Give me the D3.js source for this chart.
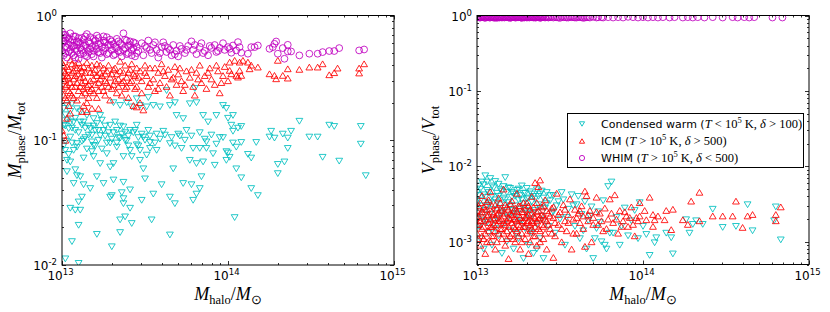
<!DOCTYPE html>
<html>
<head>
<meta charset="utf-8">
<style>
body { margin: 0; background: #fff; }
svg text { font-family: "DejaVu Sans", sans-serif; }
</style>
</head>
<body>

<div id="diagram"></div>

<script src="https://d3js.org/d3.v7.min.js"></script>
<script>

// values: [log10(Mhalo/Msun), fraction]
var cw_mass = [
	[13.03,0.19],[13.06,0.196],[13.09,0.179],[13.11,0.169],[13.15,0.158],[13.19,0.149],[13.23,0.158],[13.01,0.132],
	[13.04,0.124],[13.07,0.14],[13.12,0.132],[13.17,0.124],[13.21,0.136],[13.25,0.12],[13.29,0.132],[13.33,0.12],
	[13.37,0.128],[13.41,0.12],[13.45,0.132],[13.47,0.19],[13.51,0.185],[13.55,0.19],[13.59,0.185],[13.63,0.25],
	[13.65,0.19],[13.68,0.2],[13.69,0.158],[13.73,0.149],[13.77,0.196],[13.80,0.26],[13.81,0.2],[13.85,0.158],
	[13.88,0.14],[13.93,0.158],[13.97,0.19],[13.99,0.18],[14.02,0.132],[14.03,0.158],[13.39,0.2],[13.42,0.185],
	[13.35,0.19],[13.31,0.2],[13.45,0.215],[13.52,0.22],
	[13.01,0.18],[13.02,0.16],[13.03,0.145],[13.05,0.17],[13.06,0.125],[13.08,0.15],[13.10,0.115],[13.13,0.14],
	[13.14,0.105],[13.16,0.13],[13.18,0.11],[13.20,0.12],[13.22,0.1],[13.24,0.145],[13.26,0.108],[13.28,0.115],
	[13.30,0.102],[13.32,0.14],[13.34,0.105],[13.36,0.112],[13.38,0.1],[13.40,0.108],[13.43,0.115],[13.46,0.105],
	[13.48,0.112],[13.50,0.1],[13.53,0.108],[13.57,0.112],[13.61,0.118],[13.66,0.105],[13.70,0.112],[13.74,0.1],
	[13.78,0.108],[13.83,0.115],[13.86,0.102],[13.90,0.11],[13.95,0.105],
	[13.02,0.098],[13.05,0.106],[13.09,0.094],[13.13,0.101],[13.18,0.097],[13.23,0.109],[13.29,0.095],[13.35,0.104],
	[13.39,0.099],[13.45,0.092],[13.49,0.106],[13.53,0.096],[13.59,0.102],[13.65,0.094],[13.71,0.108],[13.87,0.097],
	[13.93,0.093],[13.97,0.105],
	[13.01,0.09],[13.02,0.13],[13.04,0.077],[13.05,0.14],[13.06,0.095],[13.08,0.12],[13.09,0.088],[13.11,0.14],
	[13.12,0.098],[13.14,0.125],[13.15,0.085],[13.16,0.11],[13.19,0.13],[13.20,0.09],[13.22,0.12],[13.24,0.085],
	[13.26,0.13],[13.27,0.095],[13.31,0.115],[13.33,0.095],[13.35,0.13],[13.38,0.115],[13.40,0.09],[13.44,0.12],
	[13.46,0.09],[13.52,0.12],[13.56,0.095],[13.62,0.11],[13.68,0.09],[13.75,0.12],
	[13.02,0.083],[13.07,0.083],[13.03,0.069],[13.05,0.067],[13.13,0.072],[13.19,0.091],[13.18,0.081],[13.19,0.074],
	[13.23,0.065],[13.27,0.078],[13.29,0.061],[13.31,0.065],[13.33,0.088],[13.37,0.074],[13.41,0.083],[13.42,0.074],
	[13.47,0.083],[13.47,0.069],[13.49,0.059],[13.51,0.076],[13.53,0.086],[13.57,0.083],[13.67,0.059],[13.72,0.086],
	[13.77,0.069],[13.79,0.086],[13.81,0.065],[13.83,0.086],[13.85,0.067],[13.87,0.086],[13.91,0.078],[13.92,0.063],
	[13.99,0.069],[13.99,0.081],
	[13.03,0.056],[13.08,0.058],[13.09,0.052],[13.11,0.051],[13.21,0.051],[13.25,0.045],[13.31,0.048],[13.37,0.046],
	[13.50,0.049],[13.07,0.045],[13.13,0.044],[13.17,0.041],[13.60,0.044],[13.73,0.045],[13.78,0.044],[13.84,0.051],
	[13.83,0.041],[13.81,0.037],[13.79,0.033],[13.36,0.038],[13.30,0.036],[13.29,0.035],[13.37,0.034],[13.37,0.031],
	[13.41,0.04],[13.55,0.037],[13.65,0.035],[13.68,0.031],[13.12,0.035],[13.10,0.032],[13.05,0.0285],[13.08,0.0275],
	[13.11,0.0275],[13.41,0.0285],[13.48,0.033],[13.38,0.0243],[13.35,0.023],[13.42,0.0215],[13.54,0.023],[13.10,0.0208],
	[13.21,0.0176],[13.35,0.0182],[13.65,0.0174],[13.06,0.0154],[13.30,0.014],[13.02,0.0112],[13.10,0.0103],
	[14.00,0.15],[14.03,0.118],[14.06,0.125],[14.08,0.129],[14.03,0.095],[14.05,0.088],[14.08,0.096],[14.01,0.073],
	[14.00,0.079],[14.05,0.059],[14.08,0.050],[14.12,0.077],[14.14,0.072],[14.14,0.041],[14.18,0.036],[14.17,0.096],
	[14.04,0.024],[14.26,0.118],[14.25,0.106],[14.28,0.104],[14.33,0.112],[14.36,0.104],[14.38,0.118],[14.36,0.086],
	[14.30,0.064],[14.30,0.054],[14.34,0.067],[14.43,0.142],[14.49,0.106],[14.54,0.106],[14.57,0.073],[14.61,0.132],
	[14.64,0.129],[14.67,0.068],[14.80,0.129],[14.80,0.093],[14.83,0.052]
];

var icm_mass = [
	[13.00,0.42],[13.01,0.36],[13.01,0.30],[13.02,0.27],[13.02,0.22],[13.03,0.39],[13.03,0.33],[13.04,0.25],
	[13.04,0.19],[13.05,0.44],[13.05,0.29],[13.06,0.35],[13.06,0.23],[13.07,0.31],[13.08,0.40],[13.08,0.27],
	[13.09,0.21],[13.10,0.34],[13.10,0.25],[13.11,0.38],[13.12,0.29],[13.12,0.17],[13.13,0.32],[13.14,0.24],
	[13.15,0.42],[13.15,0.20],[13.16,0.28],[13.17,0.35],[13.18,0.26],[13.18,0.18],[13.19,0.31],[13.20,0.37],
	[13.21,0.22],[13.22,0.29],[13.23,0.40],[13.24,0.33],[13.25,0.25],[13.26,0.30],[13.27,0.36],[13.28,0.27],
	[13.29,0.21],[13.30,0.34],[13.31,0.28],[13.32,0.38],[13.33,0.24],[13.34,0.31],[13.35,0.43],[13.36,0.29],
	[13.37,0.35],[13.38,0.26],[13.39,0.32],[13.40,0.22],[13.41,0.37],[13.42,0.30],[13.43,0.19],[13.44,0.33],
	[13.45,0.27],
	[13.00,0.33],[13.00,0.26],[13.01,0.40],[13.01,0.23],[13.02,0.35],[13.02,0.31],[13.03,0.28],[13.03,0.21],
	[13.04,0.37],[13.04,0.32],[13.05,0.24],[13.06,0.41],[13.06,0.27],[13.07,0.36],[13.07,0.22],[13.08,0.33],
	[13.09,0.38],[13.09,0.29],[13.10,0.42],[13.11,0.27],[13.11,0.32],[13.12,0.36],[13.12,0.23],[13.13,0.39],
	[13.13,0.26],[13.14,0.30],[13.14,0.35],[13.15,0.27],[13.16,0.38],[13.16,0.22],[13.17,0.30],[13.17,0.25],
	[13.18,0.40],[13.19,0.24],[13.19,0.35],[13.20,0.28],[13.21,0.33],[13.21,0.41],[13.22,0.25],[13.23,0.31],
	[13.23,0.35],[13.24,0.27],[13.25,0.38],[13.26,0.23],[13.26,0.34],[13.27,0.29],[13.28,0.40],[13.29,0.32],
	[13.30,0.26],[13.31,0.37],[13.32,0.30],[13.33,0.34],[13.34,0.27],[13.35,0.36],[13.36,0.23],[13.37,0.30],
	[13.38,0.40],[13.39,0.27],[13.40,0.35],[13.41,0.29],[13.42,0.41],[13.43,0.34],[13.44,0.26],[13.45,0.38],
	[13.46,0.32],[13.48,0.24],[13.50,0.35],[13.53,0.29],[13.56,0.38],[13.58,0.26],[13.61,0.36],[13.67,0.32],
	[13.71,0.38],[13.74,0.28],[13.78,0.37],[13.82,0.31],[13.88,0.35],[13.93,0.40],[13.96,0.29],
	[13.00,0.12],[13.01,0.11],[13.02,0.10],[13.03,0.15],[13.05,0.165],[13.13,0.19],[13.15,0.17],[13.22,0.18],
	[13.45,0.185],[13.47,0.2],[13.49,0.175],
	[13.47,0.36],[13.48,0.30],[13.50,0.40],[13.51,0.33],[13.52,0.27],[13.53,0.38],[13.55,0.31],[13.56,0.25],
	[13.58,0.35],[13.59,0.29],[13.60,0.41],[13.62,0.33],[13.63,0.27],[13.64,0.37],[13.65,0.23],[13.66,0.31],
	[13.68,0.39],[13.69,0.28],[13.70,0.34],[13.72,0.30],[13.73,0.25],[13.75,0.36],[13.77,0.32],[13.79,0.27],
	[13.80,0.23],[13.81,0.35],[13.83,0.40],[13.84,0.29],[13.86,0.33],[13.87,0.26],[13.89,0.38],[13.90,0.31],
	[13.92,0.28],[13.94,0.36],[13.95,0.24],[13.97,0.33],[13.98,0.39],[14.00,0.30],
	[14.01,0.423],[14.04,0.437],[14.07,0.423],[14.09,0.437],[14.12,0.423],[14.14,0.40],[14.18,0.386],[14.02,0.341],
	[14.05,0.331],[14.07,0.363],[14.08,0.331],[14.06,0.321],[14.01,0.363],[14.30,0.437],[14.36,0.374],[14.25,0.341],
	[14.28,0.331],[14.29,0.311],[14.33,0.331],[14.36,0.315],[14.43,0.37],[14.49,0.386],[14.54,0.386],[14.57,0.41],
	[14.61,0.335],[14.64,0.348],[14.66,0.379],[14.79,0.379],[14.79,0.346],[14.82,0.41],[14.13,0.374]
];

var whim_mass = [
	[13.00,0.74],[13.01,0.70],[13.01,0.62],[13.02,0.56],[13.02,0.50],[13.03,0.67],[13.03,0.46],[13.04,0.59],
	[13.05,0.72],[13.05,0.53],[13.06,0.64],[13.07,0.48],[13.07,0.57],[13.08,0.68],[13.09,0.52],[13.10,0.61],
	[13.10,0.45],[13.11,0.55],[13.12,0.66],[13.13,0.50],[13.14,0.58],[13.15,0.71],[13.15,0.47],[13.16,0.62],
	[13.17,0.54],[13.18,0.49],[13.19,0.65],[13.20,0.57],[13.21,0.69],[13.22,0.51],[13.23,0.60],[13.24,0.46],
	[13.25,0.63],[13.26,0.55],[13.27,0.67],[13.28,0.50],[13.29,0.58],[13.30,0.62],[13.31,0.48],[13.32,0.56],
	[13.33,0.65],[13.34,0.52],[13.35,0.60],[13.36,0.47],[13.37,0.72],[13.38,0.55],[13.39,0.63],[13.40,0.50],
	[13.41,0.58],[13.42,0.53],[13.43,0.61],[13.44,0.47],[13.45,0.56],
	[13.00,0.60],[13.00,0.52],[13.01,0.66],[13.01,0.48],[13.02,0.63],[13.02,0.70],[13.03,0.55],[13.04,0.51],
	[13.04,0.65],[13.05,0.61],[13.06,0.50],[13.06,0.57],[13.07,0.68],[13.08,0.54],[13.08,0.46],[13.09,0.62],
	[13.09,0.58],[13.10,0.66],[13.11,0.49],[13.11,0.60],[13.12,0.53],[13.13,0.64],[13.13,0.57],[13.14,0.48],
	[13.14,0.68],[13.15,0.55],[13.16,0.51],[13.17,0.60],[13.17,0.67],[13.18,0.56],[13.19,0.52],[13.19,0.47],
	[13.20,0.63],[13.21,0.54],[13.22,0.59],[13.22,0.66],[13.23,0.50],[13.24,0.56],[13.25,0.52],[13.25,0.68],
	[13.26,0.61],[13.27,0.49],[13.28,0.58],[13.29,0.64],[13.30,0.53],[13.31,0.59],[13.32,0.49],[13.33,0.55],
	[13.34,0.62],[13.35,0.51],[13.36,0.58],[13.37,0.53],[13.38,0.64],[13.39,0.49],[13.40,0.57],[13.41,0.62],
	[13.42,0.48],[13.43,0.55],[13.44,0.60],[13.45,0.50],
	[13.50,0.57],[13.53,0.53],[13.56,0.61],[13.59,0.50],[13.62,0.57],[13.65,0.53],[13.68,0.49],[13.71,0.57],
	[13.75,0.53],[13.80,0.58],[13.85,0.50],[13.89,0.57],[13.94,0.52],
	[13.46,0.52],[13.48,0.60],[13.49,0.48],[13.51,0.55],[13.52,0.63],[13.54,0.50],[13.55,0.58],[13.57,0.53],
	[13.58,0.46],[13.60,0.56],[13.61,0.61],[13.63,0.51],[13.64,0.55],[13.66,0.48],[13.67,0.58],[13.69,0.52],
	[13.70,0.47],[13.72,0.54],[13.74,0.50],[13.76,0.57],[13.78,0.62],[13.79,0.53],[13.81,0.49],[13.83,0.56],
	[13.84,0.60],[13.86,0.52],[13.88,0.48],[13.90,0.55],[13.92,0.58],[13.93,0.51],[13.95,0.55],[13.97,0.60],
	[13.98,0.53],
	[14.00,0.558],[14.03,0.575],[14.05,0.525],[14.06,0.612],[14.07,0.558],[14.08,0.503],[14.12,0.494],[14.14,0.558],
	[14.16,0.558],[14.18,0.575],[14.01,0.541],[14.02,0.503],[14.25,0.541],[14.27,0.558],[14.28,0.593],[14.29,0.619],
	[14.30,0.494],[14.33,0.548],[14.34,0.45],[14.36,0.582],[14.36,0.515],[14.38,0.515],[14.43,0.479],[14.49,0.494],
	[14.54,0.494],[14.57,0.509],[14.61,0.519],[14.64,0.519],[14.67,0.548],[14.79,0.525],[14.82,0.534]
];

var cw_vol = [
	[13.00,0.0045],[13.00,0.0028],[13.01,0.0016],[13.01,0.0055],[13.02,0.0035],[13.02,0.0011],[13.03,0.0021],[13.03,0.0062],
	[13.04,0.0042],[13.04,0.0008],[13.05,0.0026],[13.05,0.0075],[13.06,0.0018],[13.06,0.0048],[13.07,0.0032],[13.07,0.0013],
	[13.08,0.0069],[13.08,0.0023],[13.09,0.0040],[13.09,0.0009],[13.10,0.0052],[13.10,0.0027],[13.11,0.0015],[13.11,0.0036],
	[13.12,0.0044],[13.12,0.0020],[13.13,0.0058],[13.13,0.0012],[13.14,0.0031],[13.14,0.0024],[13.15,0.0047],[13.15,0.0007],
	[13.16,0.0017],[13.16,0.0038],[13.17,0.0071],[13.17,0.0028],[13.18,0.0045],[13.18,0.0010],[13.19,0.0033],[13.19,0.0021],
	[13.20,0.0051],[13.20,0.0014],[13.21,0.0039],[13.21,0.0026],[13.22,0.0043],[13.22,0.0008],[13.23,0.0030],[13.23,0.0018],
	[13.24,0.0048],[13.24,0.0023],[13.25,0.0036],[13.25,0.0011],[13.26,0.0041],[13.26,0.0027],[13.27,0.0019],[13.27,0.0055],
	[13.28,0.0032],[13.28,0.0006],[13.29,0.0044],[13.29,0.0015],[13.30,0.0024],[13.30,0.0037],[13.31,0.0029],[13.31,0.0009],
	[13.32,0.0046],[13.32,0.0020],[13.33,0.0034],[13.33,0.0013],[13.34,0.0040],[13.34,0.0007],[13.35,0.0026],[13.36,0.0049],
	[13.36,0.0017],[13.37,0.0031],[13.38,0.0043],[13.38,0.0011],[13.39,0.0022],[13.40,0.0038],[13.40,0.0006],[13.41,0.0028],
	[13.42,0.0045],[13.43,0.0016],[13.44,0.0035],[13.45,0.0024],[13.46,0.0041],[13.47,0.0013],[13.48,0.0030],[13.50,0.0020],
	[13.52,0.0036],[13.53,0.0009],[13.55,0.0027],[13.57,0.0042],[13.59,0.0016],[13.60,0.0031],[13.62,0.0011],[13.63,0.0023],
	[13.65,0.0034],[13.66,0.0008],[13.67,0.0019],[13.69,0.0029],[13.70,0.0006],[13.72,0.0015],[13.73,0.0025],[13.75,0.0010],
	[13.76,0.0035],[13.78,0.0008],[13.79,0.0054],[13.81,0.0062],[13.82,0.0013],[13.84,0.0021],[13.86,0.0009],[13.87,0.0016],
	[13.89,0.0028],[13.91,0.0012],[13.93,0.0019],[13.95,0.0026],[13.97,0.0011],
	[13.00,0.0020],[13.00,0.0035],[13.01,0.0041],[13.01,0.0024],[13.02,0.0050],[13.02,0.0016],[13.03,0.0030],[13.04,0.0057],
	[13.04,0.0019],[13.05,0.0039],[13.06,0.0030],[13.06,0.0062],[13.07,0.0045],[13.08,0.0033],[13.09,0.0055],[13.10,0.0019],
	[13.11,0.0063],[13.12,0.0033],[13.13,0.0040],[13.14,0.0049],[13.15,0.0025],[13.16,0.0054],[13.17,0.0036],[13.18,0.0022],
	[13.19,0.0052],[13.20,0.0030],[13.21,0.0045],[13.22,0.0024],[13.23,0.0040],[13.24,0.0013],[13.25,0.0050],[13.26,0.0019],
	[13.27,0.0036],[13.28,0.0044],[13.29,0.0026],[13.30,0.0051],[13.31,0.0038],[13.32,0.0014],[13.33,0.0043],[13.34,0.0024],
	[13.35,0.0037],[13.36,0.0008],[13.37,0.0040],[13.38,0.0028],[13.39,0.0047],[13.40,0.0019],[13.42,0.0032],[13.44,0.0041],
	[13.46,0.0025],[13.49,0.0034],[13.51,0.0045],[13.54,0.0021],[13.58,0.0030],[13.61,0.0040],[13.64,0.0014],[13.68,0.0022],
	[13.71,0.0011],[13.74,0.0018],[13.77,0.0009],[13.80,0.0013],
	[13.98,0.0033],[14.00,0.0016],[14.02,0.00125],[14.07,0.00097],[14.14,0.0013],[14.18,0.00069],[14.17,0.00113],[14.04,0.00066],
	[14.08,0.00113],[14.28,0.0013],[14.30,0.0017],[14.36,0.0017],[14.42,0.0027],[14.48,0.00155],[14.56,0.0016],[14.63,0.0031],
	[14.66,0.0014],[14.79,0.0019],[14.80,0.0029],[14.83,0.00106],[14.26,0.00196],[14.32,0.0019]
];

var icm_vol = [
	[13.00,0.0021],[13.00,0.0013],[13.01,0.0030],[13.01,0.0017],[13.02,0.0009],[13.02,0.0024],[13.03,0.0041],[13.03,0.0015],
	[13.04,0.0019],[13.04,0.0011],[13.05,0.0027],[13.05,0.0007],[13.06,0.0022],[13.06,0.0034],[13.07,0.0014],[13.07,0.0018],
	[13.08,0.0046],[13.08,0.0010],[13.09,0.0025],[13.09,0.0016],[13.10,0.0020],[13.10,0.0012],[13.11,0.0031],[13.11,0.0008],
	[13.12,0.0017],[13.12,0.0023],[13.13,0.0013],[13.13,0.0038],[13.14,0.0019],[13.14,0.0027],[13.15,0.0011],[13.15,0.0015],
	[13.16,0.0022],[13.16,0.0050],[13.17,0.0017],[13.17,0.0009],[13.18,0.0029],[13.18,0.0014],[13.19,0.0021],[13.19,0.0006],
	[13.20,0.0024],[13.20,0.0012],[13.21,0.0035],[13.21,0.0018],[13.22,0.0016],[13.22,0.0026],[13.23,0.0010],[13.23,0.0020],
	[13.24,0.0044],[13.24,0.0014],[13.25,0.0023],[13.25,0.0017],[13.26,0.0008],[13.26,0.0030],[13.27,0.0019],[13.27,0.0013],
	[13.28,0.0025],[13.28,0.0016],[13.29,0.0021],[13.29,0.0011],[13.30,0.0033],[13.30,0.0018],[13.31,0.0007],[13.31,0.0023],
	[13.32,0.0014],[13.32,0.0027],[13.33,0.0019],[13.33,0.0040],[13.34,0.0012],[13.34,0.0022],[13.35,0.0061],[13.35,0.0016],
	[13.36,0.0025],[13.36,0.0009],[13.37,0.0054],[13.37,0.0020],[13.38,0.0066],[13.38,0.0014],[13.39,0.0029],[13.39,0.0017],
	[13.40,0.0022],[13.40,0.0011],[13.41,0.0036],[13.42,0.0019],[13.42,0.0008],[13.43,0.0024],[13.44,0.0015],[13.45,0.0028],
	[13.46,0.00062],[13.46,0.0021],[13.47,0.0012],[13.48,0.0044],[13.49,0.0017],[13.50,0.0025],[13.51,0.0010],[13.52,0.0031],
	[13.53,0.0019],[13.54,0.0014],[13.55,0.0023],[13.56,0.0037],[13.57,0.0008],[13.58,0.0020],[13.59,0.0027],[13.60,0.0013],
	[13.61,0.0024],[13.62,0.0018],[13.63,0.0030],[13.64,0.0022],[13.65,0.0047],[13.65,0.00087],[13.66,0.0041],[13.67,0.0019],
	[13.68,0.0026],[13.69,0.0010],[13.70,0.0021],[13.72,0.0039],[13.73,0.0017],[13.74,0.0024],[13.76,0.0014],[13.77,0.0028],
	[13.79,0.0020],[13.80,0.0037],[13.82,0.0018],[13.83,0.0042],[13.85,0.0013],[13.86,0.0026],[13.88,0.0019],[13.90,0.0022],
	[13.91,0.0016],[13.93,0.0029],[13.95,0.0012],[13.96,0.0021],[13.97,0.0019],
	[13.00,0.0017],[13.00,0.0026],[13.01,0.0011],[13.01,0.0022],[13.02,0.0019],[13.02,0.0033],[13.03,0.0012],[13.03,0.0025],
	[13.04,0.0016],[13.04,0.0029],[13.05,0.0020],[13.05,0.0013],[13.06,0.0010],[13.06,0.0027],[13.07,0.0023],[13.07,0.0036],
	[13.08,0.0016],[13.08,0.0020],[13.09,0.0012],[13.09,0.0030],[13.10,0.0017],[13.10,0.0024],[13.11,0.0021],[13.11,0.0014],
	[13.12,0.0028],[13.12,0.0010],[13.13,0.0019],[13.13,0.0024],[13.14,0.0015],[13.14,0.0033],[13.15,0.0020],[13.15,0.0026],
	[13.16,0.0013],[13.16,0.0018],[13.17,0.0024],[13.17,0.0031],[13.18,0.0019],[13.18,0.0011],[13.19,0.0016],[13.19,0.0027],
	[13.20,0.0020],[13.20,0.0032],[13.21,0.0013],[13.21,0.0023],[13.22,0.0020],[13.22,0.0011],[13.23,0.0028],[13.23,0.0015],
	[13.24,0.0019],[13.24,0.0025],[13.25,0.0012],[13.25,0.0030],[13.26,0.0021],[13.26,0.0016],[13.27,0.0025],[13.27,0.0010],
	[13.28,0.0019],[13.28,0.0033],[13.29,0.0016],[13.29,0.0027],[13.30,0.0013],[13.30,0.0022],[13.31,0.0019],[13.31,0.0030],
	[13.32,0.0017],[13.32,0.0010],[13.33,0.0024],[13.33,0.0015],[13.34,0.0029],[13.34,0.0018],[13.35,0.0021],[13.35,0.0012],
	[13.36,0.0019],[13.36,0.0033],[13.37,0.0015],[13.37,0.0026],[13.38,0.0021],[13.38,0.0010],[13.39,0.0023],[13.40,0.0016],
	[13.40,0.0030],[13.41,0.0013],[13.41,0.0020],[13.42,0.0026],[13.43,0.0017],[13.44,0.0022],[13.45,0.0013],[13.46,0.0029],
	[13.47,0.0018],[13.49,0.0023],[13.51,0.0015],[13.53,0.0027],[13.55,0.0018],[13.58,0.0013],[13.60,0.0021],[13.62,0.0026],
	[13.64,0.0015],[13.67,0.0023],[13.70,0.0017],[13.72,0.0025],[13.75,0.0019],[13.78,0.0015],[13.81,0.0024],[13.84,0.0020],
	[13.87,0.0016],[13.89,0.0025],[13.92,0.0021],[13.94,0.0017],
	[14.04,0.0039],[13.98,0.0033],[14.01,0.0026],[14.06,0.0023],[14.07,0.00196],[14.09,0.0022],[14.13,0.00196],[14.14,0.0026],
	[14.18,0.0027],[14.17,0.00145],[14.24,0.00196],[14.27,0.0017],[14.29,0.00346],[14.34,0.00453],[14.34,0.0019],[14.42,0.0022],
	[14.48,0.0022],[14.54,0.0022],[14.56,0.00346],[14.60,0.00155],[14.63,0.0022],[14.66,0.0023],[14.80,0.0023],[14.80,0.0019],
	[14.83,0.0029],[13.98,0.0022],[14.02,0.00196],[14.06,0.0016]
];

var whim_vol = [
	[13.00,0.95],[13.01,0.97],[13.02,0.94],[13.03,0.96],[13.04,0.95],[13.05,0.93],[13.06,0.95],[13.07,0.97],
	[13.08,0.94],[13.09,0.96],[13.10,0.95],[13.11,0.95],[13.12,0.93],[13.13,0.96],[13.14,0.95],[13.15,0.94],
	[13.16,0.97],[13.17,0.96],[13.18,0.95],[13.19,0.94],[13.20,0.93],[13.21,0.95],[13.22,0.96],[13.23,0.94],
	[13.24,0.96],[13.25,0.95],[13.26,0.95],[13.27,0.93],[13.28,0.96],[13.29,0.95],[13.30,0.94],[13.31,0.97],
	[13.32,0.96],[13.33,0.95],[13.34,0.94],[13.35,0.94],[13.36,0.95],[13.37,0.96],[13.38,0.93],[13.39,0.95],
	[13.40,0.96],[13.41,0.94],[13.42,0.96],[13.43,0.95],[13.44,0.95],[13.46,0.94],[13.48,0.95],[13.50,0.93],
	[13.52,0.95],[13.54,0.94],[13.56,0.96],[13.58,0.95],[13.60,0.94],[13.62,0.95],[13.64,0.93],[13.66,0.95],
	[13.68,0.94],[13.70,0.96],[13.73,0.95],[13.76,0.94],[13.79,0.95],[13.82,0.94],[13.85,0.95],[13.88,0.94],
	[13.91,0.96],[13.94,0.95],[13.97,0.94],[14.00,0.95],[14.03,0.94],[14.06,0.95],[14.09,0.94],[14.12,0.95],
	[14.16,0.94],[14.19,0.95],[14.24,0.94],[14.27,0.95],[14.30,0.94],[14.33,0.95],[14.37,0.94],[14.42,0.95],
	[14.48,0.94],[14.54,0.95],[14.57,0.94],[14.61,0.95],[14.64,0.94],[14.67,0.95],[14.78,0.94],[14.84,0.94],
	[13.005,0.96],[13.015,0.94],[13.025,0.95],[13.035,0.97],[13.045,0.94],[13.055,0.96],[13.065,0.95],[13.075,0.94],
	[13.085,0.96],[13.095,0.95],[13.105,0.93],[13.115,0.96],[13.125,0.95],[13.135,0.94],[13.145,0.96],[13.155,0.95],
	[13.165,0.94],[13.175,0.95],[13.185,0.96],[13.195,0.95],[13.205,0.94],[13.215,0.96],[13.225,0.95],[13.235,0.94],
	[13.245,0.95],[13.255,0.96],[13.265,0.94],[13.275,0.95],[13.285,0.94],[13.295,0.96],[13.305,0.95],[13.315,0.94],
	[13.325,0.95],[13.335,0.96],[13.345,0.95],[13.355,0.94],[13.365,0.96],[13.375,0.95],[13.385,0.94],[13.395,0.96],
	[13.41,0.95],[13.43,0.94],[13.45,0.96],[13.47,0.95],[13.49,0.94],[13.51,0.96],[13.53,0.95],[13.55,0.94],
	[13.57,0.95],[13.59,0.94],[13.61,0.96],[13.63,0.95],[13.65,0.94],[13.67,0.95],[13.72,0.94],[13.75,0.95]
];

var legend_labels = [
	{ name: 'Condensed warm', rel: '<', drel: '>', delta: '100' },
	{ name: 'ICM', rel: '>', drel: '>', delta: '500' },
	{ name: 'WHIM', rel: '>', drel: '<', delta: '500' }
];
var series_colors = [ '#00bfbf', '#ff0000', '#bf00bf' ];
var series_shapes = [ 'down', 'up', 'circle' ];

var x_domain = [ 1e13, 1e15 ];

var canvas_size = { width: 830, height: 312 };

var svg = d3.select( '#diagram' )
	.append( 'svg' )
		.attr( 'width', canvas_size.width )
		.attr( 'height', canvas_size.height );

var panels = [
	{ id: 'l', x0: 62, x1: 394, y0: 15.5, y1: 265, ydom: [ 1e-2, 1 ],
	  series: [ cw_mass, icm_mass, whim_mass ], ylab: [ 'M', 'phase', 'M', 'tot' ], ylx: 21 },
	{ id: 'r', x0: 477, x1: 809, y0: 15.5, y1: 264.5, ydom: [ 5e-4, 1 ],
	  series: [ cw_vol, icm_vol, whim_vol ], ylab: [ 'V', 'phase', 'V', 'tot' ], ylx: 435 }
];

function marker_path( shape, s )
{
	if( shape == 'up' ) return 'M0,' + (-0.85*s) + 'L' + s + ',' + (0.85*s) + 'L' + (-s) + ',' + (0.85*s) + 'Z';
	if( shape == 'down' ) return 'M0,' + (0.85*s) + 'L' + s + ',' + (-0.85*s) + 'L' + (-s) + ',' + (-0.85*s) + 'Z';
	return d3.arc()({ innerRadius: 0, outerRadius: s, startAngle: 0, endAngle: 2*Math.PI });
}

function pow_label( g, x, y, exp, anchor )
{
	var t = g.append( 'text' )
		.attr( 'x', x ).attr( 'y', y )
		.attr( 'text-anchor', anchor )
		.style( 'font-size', '12px' );
	t.append( 'tspan' ).text( '10' );
	t.append( 'tspan' ).attr( 'dy', -5 ).style( 'font-size', '8.5px' ).text( exp );
}

function math_label( g, parts, x, y, rot )
{
	var t = g.append( 'text' )
		.attr( 'transform', 'translate(' + x + ',' + y + ')' + ( rot ? ' rotate(-90)' : '' ) )
		.attr( 'text-anchor', 'middle' )
		.style( 'font-family', '"Liberation Serif", serif' );
	t.append( 'tspan' ).style( 'font-style', 'italic' ).style( 'font-size', '18px' ).text( parts[0] );
	t.append( 'tspan' ).attr( 'dy', 4 ).style( 'font-size', '12.5px' ).text( parts[1] );
	t.append( 'tspan' ).attr( 'dy', -4 ).style( 'font-size', '18px' ).text( '/' );
	t.append( 'tspan' ).style( 'font-style', 'italic' ).style( 'font-size', '18px' ).text( parts[2] );
	t.append( 'tspan' ).attr( 'dy', 4 ).style( 'font-size', '12.5px' ).text( parts[3] );
}

function draw_panel( p )
{
	var x = d3.scaleLog().domain( x_domain ).range( [ p.x0, p.x1 ] );
	var y = d3.scaleLog().domain( p.ydom ).range( [ p.y1, p.y0 ] );
	var g = svg.append( 'g' );

	g.append( 'clipPath' ).attr( 'id', 'clip_' + p.id )
		.append( 'rect' )
			.attr( 'x', p.x0 ).attr( 'y', p.y0 )
			.attr( 'width', p.x1 - p.x0 ).attr( 'height', p.y1 - p.y0 );

	var plot = g.append( 'g' ).attr( 'clip-path', 'url(#clip_' + p.id + ')' );
	p.series.forEach( function( data, i )
	{
		plot.selectAll( 'path.s' + i )
			.data( data )
			.enter().append( 'path' )
				.attr( 'class', 's' + i )
				.attr( 'transform', function(d) { return 'translate(' + x( Math.pow(10, d[0]) ) + ',' + y( d[1] ) + ')'; } )
				.attr( 'd', marker_path( series_shapes[i], 3.4 ) )
				.attr( 'fill', 'none' )
				.attr( 'stroke', series_colors[i] )
				.attr( 'stroke-opacity', 0.85 )
				.attr( 'stroke-width', 1 );
	});

	// ticks, inward on all four sides
	var ticks = g.append( 'g' ).attr( 'stroke', '#000' ).attr( 'stroke-width', 0.8 );
	var xt = [];
	for( var e = 13; e <= 15; e++ )
		for( var m = 1; m <= 9; m++ )
		{
			var v = m * Math.pow( 10, e );
			if( v >= x_domain[0] && v <= x_domain[1] ) xt.push( { v: v, major: m == 1 } );
		}
	xt.forEach( function( t )
	{
		var px = Math.round( x( t.v ) ) + 0.5, len = t.major ? 4 : 2;
		ticks.append( 'line' ).attr( 'x1', px ).attr( 'x2', px ).attr( 'y1', p.y1 ).attr( 'y2', p.y1 - len );
		ticks.append( 'line' ).attr( 'x1', px ).attr( 'x2', px ).attr( 'y1', p.y0 ).attr( 'y2', p.y0 + len );
		if( t.major ) pow_label( g, px - 2, p.y1 + 15, Math.round( Math.log10( t.v ) ), 'middle' );
	});
	var yt = [];
	var e0 = Math.floor( Math.log10( p.ydom[0] ) );
	for( var e = e0; e <= 0; e++ )
		for( var m = 1; m <= 9; m++ )
		{
			var v = m * Math.pow( 10, e );
			if( v >= p.ydom[0] * 0.999 && v <= p.ydom[1] * 1.001 ) yt.push( { v: v, major: m == 1 } );
		}
	yt.forEach( function( t )
	{
		var py = Math.round( y( t.v ) ) + 0.5, len = t.major ? 4 : 2;
		ticks.append( 'line' ).attr( 'x1', p.x0 ).attr( 'x2', p.x0 + len ).attr( 'y1', py ).attr( 'y2', py );
		ticks.append( 'line' ).attr( 'x1', p.x1 ).attr( 'x2', p.x1 - len ).attr( 'y1', py ).attr( 'y2', py );
		if( t.major ) pow_label( g, p.x0 - 5, py + 4.5, Math.round( Math.log10( t.v ) ), 'end' );
	});

	g.append( 'rect' )
		.attr( 'x', p.x0 ).attr( 'y', p.y0 )
		.attr( 'width', p.x1 - p.x0 ).attr( 'height', p.y1 - p.y0 )
		.attr( 'fill', 'none' ).attr( 'stroke', '#000' ).attr( 'stroke-width', 1 );

	math_label( g, [ 'M', 'halo', 'M', '\u2299' ], ( p.x0 + p.x1 ) / 2, 300, false );
	math_label( g, p.ylab, p.ylx, ( p.y0 + p.y1 ) / 2, true );
}

panels.forEach( draw_panel );

// legend on the right panel
var legend = svg.append( 'g' );
legend.append( 'rect' )
	.attr( 'x', 567.5 ).attr( 'y', 113.5 ).attr( 'width', 236 ).attr( 'height', 54 )
	.attr( 'fill', '#fff' ).attr( 'stroke', '#000' ).attr( 'stroke-width', 1 );

legend_labels.forEach( function( d, i )
{
	var cy = 124 + i * 17;
	legend.append( 'path' )
		.attr( 'transform', 'translate(582,' + cy + ')' )
		.attr( 'd', marker_path( series_shapes[i], 2.6 ) )
		.attr( 'fill', 'none' ).attr( 'stroke', series_colors[i] ).attr( 'stroke-width', 0.9 );

	var serif = '"Liberation Serif", serif';
	var t = legend.append( 'text' ).attr( 'x', 601 ).attr( 'y', cy + 4 ).style( 'font-size', '11px' );
	t.append( 'tspan' ).text( d.name + ' (' );
	t.append( 'tspan' ).style( 'font-family', serif ).style( 'font-style', 'italic' ).style( 'font-size', '12.5px' ).text( 'T' );
	t.append( 'tspan' ).style( 'font-family', serif ).style( 'font-size', '12.5px' ).text( ' ' + d.rel + ' 10' );
	t.append( 'tspan' ).attr( 'dy', -5 ).style( 'font-family', serif ).style( 'font-size', '8.5px' ).text( '5' );
	t.append( 'tspan' ).attr( 'dy', 5 ).style( 'font-family', serif ).style( 'font-size', '12.5px' ).text( ' K, ' );
	t.append( 'tspan' ).style( 'font-family', serif ).style( 'font-style', 'italic' ).style( 'font-size', '12.5px' ).text( '\u03b4' );
	t.append( 'tspan' ).style( 'font-family', serif ).style( 'font-size', '12.5px' ).text( ' ' + d.drel + ' ' + d.delta + ')' );
});

</script>

</body>
</html>
